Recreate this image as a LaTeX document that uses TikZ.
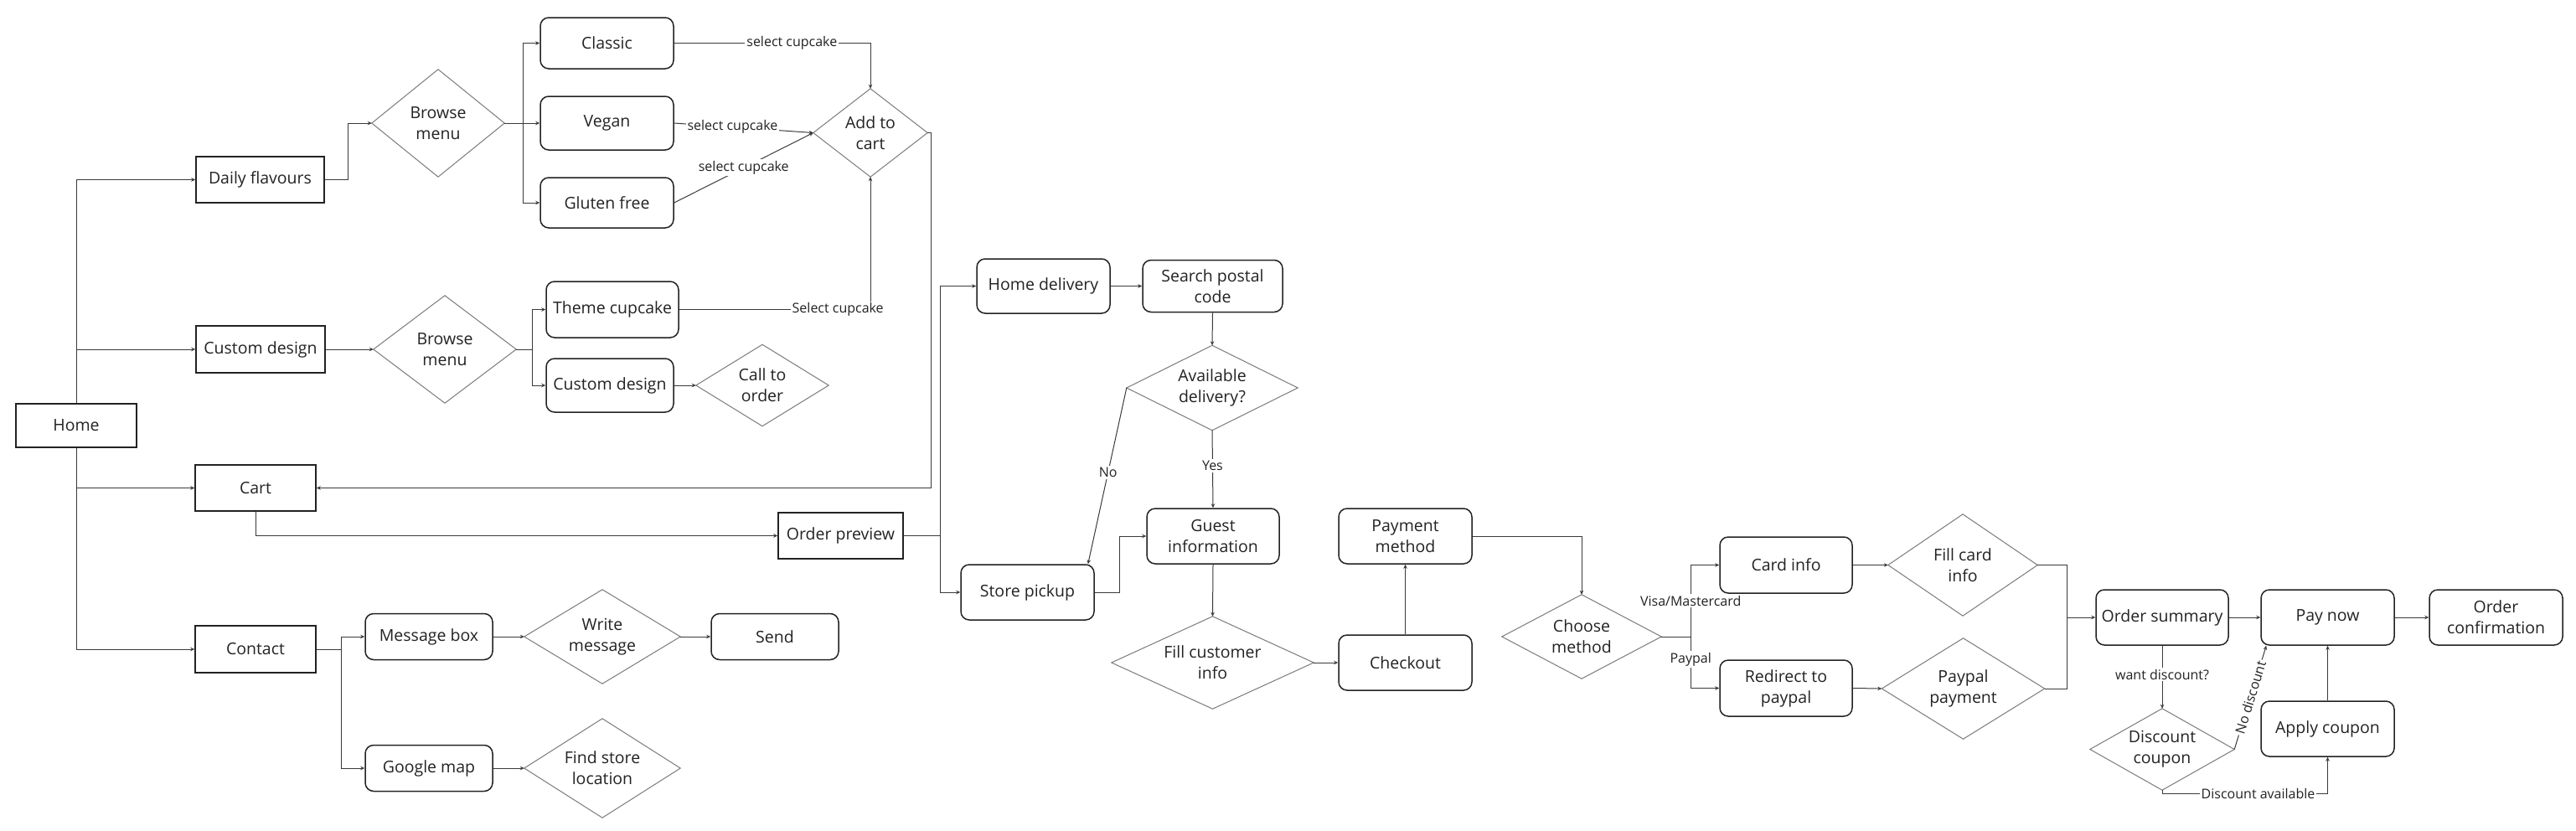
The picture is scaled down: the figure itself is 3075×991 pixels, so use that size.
\documentclass[tikz,border=0pt]{standalone}
\usepackage{fontspec}
\setmainfont{Open Sans}
\usetikzlibrary{arrows.meta,calc}
\definecolor{ink}{HTML}{222222}
\definecolor{wire}{HTML}{3A3A3A}
\definecolor{diag}{HTML}{7A7A7A}
\tikzset{
  base/.style={inner sep=2pt, align=center, text=ink, font=\fontsize{19.5}{25}\selectfont},
  rbox/.style={base, rectangle, draw=ink, line width=1.5pt},
  rnd/.style={rbox, rounded corners=10pt},
  dia/.style={base, rectangle, draw=none},
  dline/.style={draw=diag, line width=1pt},
  arr/.style={draw=wire, line width=1pt, -{Stealth[length=5pt,width=4.5pt]}},
  plain/.style={draw=wire, line width=1pt},
  lbl/.style={fill=white, inner sep=2pt, text=ink, font=\fontsize{16}{19}\selectfont},
}
\begin{document}
\begin{tikzpicture}[x=1pt,y=-1pt]
\useasboundingbox (0,0) rectangle (3075,991);
% left column
\node[rbox, minimum width=144, minimum height=52] (home) at (91,508) {Home};
\node[rbox, minimum width=153, minimum height=55] (daily) at (310.5,214.5) {Daily flavours};
\node[rbox, minimum width=154, minimum height=56] (custom) at (311,417) {Custom design};
\node[rbox, minimum width=144, minimum height=55] (cart) at (305,582.5) {Cart};
\node[rbox, minimum width=144, minimum height=56] (contact) at (305,775) {Contact};
% menus
\node[dia, minimum width=158, minimum height=128] (bm1) at (523,147) {Browse\\menu};
\node[dia, minimum width=170, minimum height=128] (bm2) at (531,417) {Browse\\menu};
\node[rnd, minimum width=159, minimum height=61] (classic) at (724.5,51.5) {Classic};
\node[rnd, minimum width=159, minimum height=64] (vegan) at (724.5,147) {Vegan};
\node[rnd, minimum width=159, minimum height=60] (gluten) at (724.5,242) {Gluten free};
\node[dia, minimum width=136, minimum height=105] (addcart) at (1039,158.5) {Add to\\cart};
\node[rnd, minimum width=158, minimum height=67] (theme) at (731,369.5) {Theme cupcake};
\node[rnd, minimum width=152, minimum height=64] (custom2) at (728,460) {Custom design};
\node[dia, minimum width=158, minimum height=97] (callorder) at (910,460) {Call to\\order};
\node[rbox, minimum width=149, minimum height=55] (op) at (1003.5,639.5) {Order preview};
% contact
\node[rnd, minimum width=152, minimum height=55] (msg) at (512,760) {Message box};
\node[dia, minimum width=186, minimum height=112] (write) at (719,760) {Write\\message};
\node[rnd, minimum width=152, minimum height=55] (send) at (925,760) {Send};
\node[rnd, minimum width=152, minimum height=55] (gmap) at (512,917) {Google map};
\node[dia, minimum width=186, minimum height=118] (findstore) at (719,917) {Find store\\location};
% delivery
\node[rnd, minimum width=159, minimum height=65] (hd) at (1245.5,341.5) {Home delivery};
\node[rnd, minimum width=167, minimum height=62] (spc) at (1447.5,341.5) {Search postal\\code};
\node[dia, minimum width=204, minimum height=101] (avail) at (1447,463) {Available\\delivery?};
\node[rnd, minimum width=158, minimum height=66] (guest) at (1448,640) {Guest\\information};
\node[rnd, minimum width=159, minimum height=66] (spick) at (1226.5,707) {Store pickup};
\node[dia, minimum width=241, minimum height=110] (fci) at (1447.5,791) {Fill customer\\info};
\node[rnd, minimum width=159, minimum height=66] (checkout) at (1677.5,791) {Checkout};
\node[rnd, minimum width=159, minimum height=66] (pm) at (1677.5,640) {Payment\\method};
% payment
\node[dia, minimum width=190, minimum height=100] (choose) at (1888,760) {Choose\\method};
\node[rnd, minimum width=158, minimum height=67] (card) at (2132,674.5) {Card info};
\node[dia, minimum width=178, minimum height=121] (fillcard) at (2343,674.5) {Fill card\\info};
\node[rnd, minimum width=158, minimum height=67] (redirect) at (2132,821.5) {Redirect to\\paypal};
\node[dia, minimum width=194, minimum height=120] (ppay) at (2343.5,822) {Paypal\\payment};
\node[rnd, minimum width=158, minimum height=66] (os) at (2581,737) {Order summary};
\node[rnd, minimum width=159, minimum height=66] (pay) at (2778.5,737) {Pay now};
\node[rnd, minimum width=159, minimum height=66] (oc) at (2979.5,737) {Order\\confirmation};
\node[rnd, minimum width=159, minimum height=66] (apply) at (2778.5,870) {Apply coupon};
\node[dia, minimum width=172, minimum height=97] (dc) at (2581,894.5) {Discount\\coupon};
% diamond outlines
\foreach \n in {bm1,bm2,addcart,callorder,write,findstore,avail,fci,choose,fillcard,ppay,dc}
  \draw[dline] (\n.north) -- (\n.east) -- (\n.south) -- (\n.west) -- cycle;
% helper coordinates
\coordinate (merge) at (2467,737);
\coordinate (sptop) at ($(spick.north east)+(-8,0)$);
\coordinate (pnin) at ($(pay.south west)+(7,0)$);
% connectors: home
\draw[arr] (home.north) |- (daily.west);
\draw[arr] (home.north) |- (custom.west);
\draw[arr] (home.south) |- (cart.west);
\draw[arr] (home.south) |- (contact.west);
% daily flavours
\draw[arr] (daily.east) -- ++(28,0) |- (bm1.west);
\draw[arr] (bm1.east) -- ++(22,0) |- (classic.west);
\draw[arr] (bm1.east) -- (vegan.west);
\draw[arr] (bm1.east) -- ++(22,0) |- (gluten.west);
\draw[arr] (classic.east) -| node[lbl, pos=0.30] {select cupcake} (addcart.north);
\draw[arr] (vegan.east) -- node[lbl, pos=0.42] {select cupcake} (addcart.west);
\draw[arr] (gluten.east) -- node[lbl, pos=0.5] {select cupcake} (addcart.west);
% custom design
\draw[arr] (custom.east) -- (bm2.west);
\draw[arr] (bm2.east) -- ++(19,0) |- (theme.west);
\draw[arr] (bm2.east) -- ++(19,0) |- (custom2.west);
\draw[arr] (theme.east) -| node[lbl, pos=0.415] {Select cupcake} (addcart.south);
\draw[arr] (custom2.east) -- (callorder.west);
% cart
\draw[arr] (addcart.east) -- ++(4,0) |- (cart.east);
\draw[arr] (cart.south) |- (op.west);
% contact
\draw[arr] (contact.east) -- ++(30,0) |- (msg.west);
\draw[arr] (contact.east) -- ++(30,0) |- (gmap.west);
\draw[arr] (msg.east) -- (write.west);
\draw[arr] (write.east) -- (send.west);
\draw[arr] (gmap.east) -- (findstore.west);
% delivery
\draw[arr] (op.east) -- ++(44,0) |- (hd.west);
\draw[arr] (op.east) -- ++(44,0) |- (spick.west);
\draw[arr] (hd.east) -- (spc.west);
\draw[arr] (spc.south) -- (avail.north);
\draw[arr] (avail.south) -- node[lbl, pos=0.46] {Yes} (guest.north);
\draw[arr] (avail.west) -- node[lbl, pos=0.48] {No} (sptop);
\draw[arr] (spick.east) -- ++(30,0) |- (guest.west);
\draw[arr] (guest.south) -- (fci.north);
\draw[arr] (fci.east) -- (checkout.west);
\draw[arr] (checkout.north) -- (pm.south);
\draw[arr] (pm.east) -| (choose.north);
% payment
\draw[arr] (choose.east) -- ++(35,0) |- node[lbl, pos=0.25] {Visa/Mastercard} (card.west);
\draw[arr] (choose.east) -- ++(35,0) |- node[lbl, pos=0.22] {Paypal} (redirect.west);
\draw[arr] (card.east) -- (fillcard.west);
\draw[arr] (redirect.east) -- (ppay.west);
\draw[plain] (fillcard.east) -| (merge);
\draw[plain] (ppay.east) -| (merge);
\draw[arr] (merge) -- (os.west);
\draw[arr] (os.east) -- (pay.west);
\draw[arr] (pay.east) -- (oc.west);
\draw[arr] (os.south) -- node[lbl, pos=0.46] {want discount?} (dc.north);
\draw[arr] (dc.east) -- node[lbl, sloped, pos=0.5] {No discount} (pnin);
\draw[arr] (dc.south) -- ++(0,4) -| node[lbl, pos=0.29] {Discount available} (apply.south);
\draw[arr] (apply.north) -- (pay.south);
\end{tikzpicture}
\end{document}
